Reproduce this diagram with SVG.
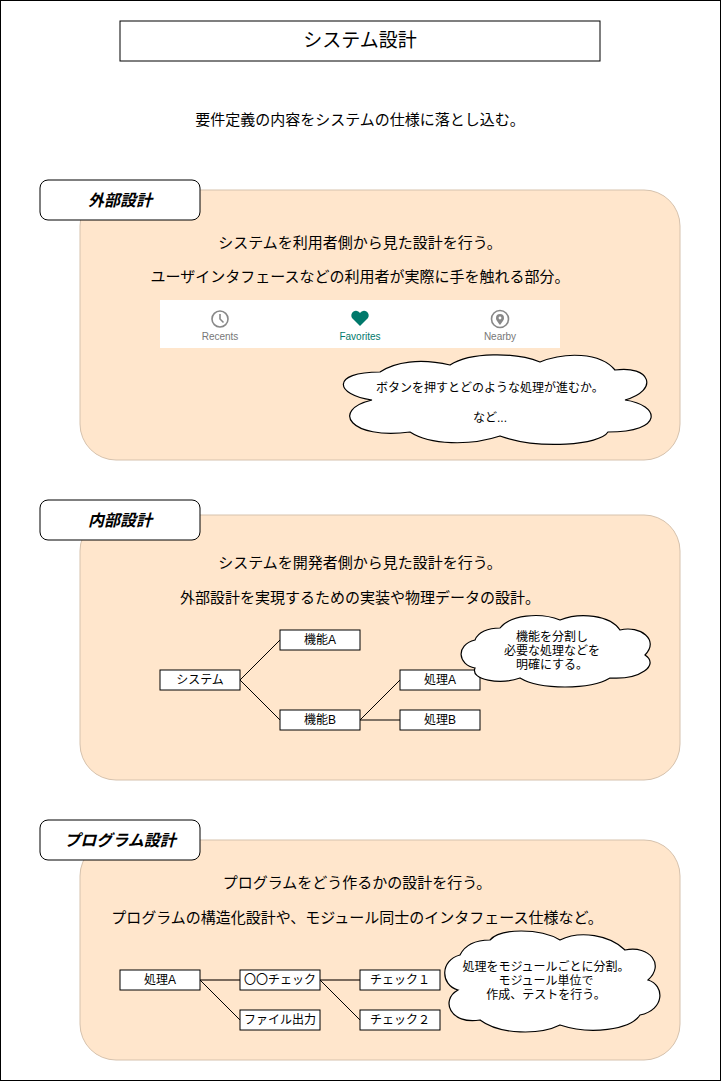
<svg xmlns="http://www.w3.org/2000/svg" width="721" height="1081" viewBox="0 0 721 1081">
<style>
text{font-family:"Liberation Sans","Noto Sans CJK JP",sans-serif;fill:#000;text-anchor:middle}
.t14{font-size:15px}.t12{font-size:12px}
.sec{fill:#ffe6cc;stroke:#d6c2ad;stroke-width:1}
.lbl{fill:#fff;stroke:#000;stroke-width:1}
.lt{font-size:16px;font-weight:bold;font-style:italic}
.box{fill:#fff;stroke:#000;stroke-width:1}
.cloud{fill:#fff;stroke:#000;stroke-width:1.2}
.ln{stroke:#000;stroke-width:1;fill:none}
.ln2{stroke:#7a6a5c;stroke-width:2;fill:none}
.tab{font-size:10px;fill:#777}
</style>
<rect x="0.5" y="0.5" width="720" height="1080" fill="#fff" stroke="#000"/>
<g id="title"><rect x="120" y="21" width="480" height="40" fill="#fff" stroke="#000"/><text x="360" y="47" style="font-size:19px">システム設計</text></g>
<text x="360" y="125" class="t14">要件定義の内容をシステムの仕様に落とし込む。</text>

<g id="sec1">
<rect class="sec" x="80" y="190" width="600" height="270" rx="36"/>
<rect class="lbl" x="40" y="180" width="160" height="40" rx="8"/><text class="lt" x="120" y="206">外部設計</text>
<text class="t14" x="360" y="248">システムを利用者側から見た設計を行う。</text>
<text class="t14" x="360" y="282">ユーザインタフェースなどの利用者が実際に手を触れる部分。</text>
<rect x="160" y="300" width="400" height="48" fill="#fff"/>
<circle cx="220" cy="319" r="8" fill="none" stroke="#888" stroke-width="1.6"/>
<path d="M220 314v5l3.5 3.5" stroke="#888" stroke-width="1.6" fill="none"/>
<text class="tab" x="220" y="340">Recents</text>
<path d="M360 326l-8-8a4.6 4.6 0 0 1 8-5a4.6 4.6 0 0 1 8 5z" fill="#00796b"/>
<text class="tab" x="360" y="340" style="fill:#00796b">Favorites</text>
<circle cx="500" cy="319" r="8.5" fill="none" stroke="#888" stroke-width="1.6"/>
<path d="M500 325c-3-4-4-5-4-7a4 4 0 0 1 8 0c0 2-1 3-4 7z" fill="#888"/><circle cx="500" cy="318" r="1.4" fill="#fff"/>
<text class="tab" x="500" y="340">Nearby</text>
<path class="cloud" d="M380 372 C330 372,335 395,372 400 C330 410,350 440,410 432 C430 445,470 446,500 436 C540 450,600 445,608 432 C665 432,660 405,625 400 C660 390,650 365,615 370 C600 352,565 352,540 362 C515 352,470 352,450 365 C420 358,395 362,380 372 Z"/>
<text class="t12" x="490" y="392">ボタンを押すとどのような処理が進むか。</text>
<text class="t12" x="490" y="422">など...</text>
</g>

<g id="sec2">
<rect class="sec" x="80" y="515" width="600" height="265" rx="36"/>
<rect class="lbl" x="40" y="500" width="160" height="40" rx="8"/><text class="lt" x="120" y="526">内部設計</text>
<text class="t14" x="360" y="568">システムを開発者側から見た設計を行う。</text>
<text class="t14" x="360" y="603">外部設計を実現するための実装や物理データの設計。</text>
</g>
<g id="sec3">
<rect class="sec" x="80" y="840" width="600" height="220" rx="36"/>
<rect class="lbl" x="40" y="820" width="160" height="40" rx="8"/><text class="lt" x="120" y="846">プログラム設計</text>
<text class="t14" x="357" y="888">プログラムをどう作るかの設計を行う。</text>
<text class="t14" x="357" y="923">プログラムの構造化設計や、モジュール同士のインタフェース仕様など。</text>
</g>
<g id="connectors">
<path class="ln" d="M240 680L280 640M240 680L280 720M360 720L400 680M360 720H400"/>
<path class="ln2" d="M200 980H240M320 980H360"/>
<path class="ln" d="M200 980L240 1020M320 980L360 1020"/>
</g>
<g id="n-system"><rect class="box" x="160" y="670" width="80" height="20"/><text class="t12" x="200" y="684">システム</text></g>
<g id="n-kinoA"><rect class="box" x="280" y="630" width="80" height="20"/><text class="t12" x="320" y="644">機能A</text></g>
<g id="n-kinoB"><rect class="box" x="280" y="710" width="80" height="20"/><text class="t12" x="320" y="724">機能B</text></g>
<g id="n-shoriA"><rect class="box" x="400" y="670" width="80" height="20"/><text class="t12" x="440" y="684">処理A</text></g>
<g id="n-shoriB"><rect class="box" x="400" y="710" width="80" height="20"/><text class="t12" x="440" y="724">処理B</text></g>
<g id="cloud2">
<path class="cloud" d="M475 640 C455 645,458 665,475 668 C470 680,500 685,520 678 C540 690,590 690,610 678 C640 680,660 665,645 655 C660 640,640 625,620 630 C610 615,580 612,560 620 C540 612,510 615,500 628 C488 628,478 632,475 640 Z"/>
<text class="t12" x="552" y="641">機能を分割し</text>
<text class="t12" x="552" y="655">必要な処理などを</text>
<text class="t12" x="552" y="669">明確にする。</text>
</g>
<g id="p-shoriA"><rect class="box" x="120" y="970" width="80" height="20"/><text class="t12" x="160" y="984">処理A</text></g>
<g id="p-check"><rect class="box" x="240" y="970" width="80" height="20"/><text class="t12" x="280" y="984">〇〇チェック</text></g>
<g id="p-check1"><rect class="box" x="360" y="970" width="80" height="20"/><text class="t12" x="400" y="984">チェック１</text></g>
<g id="p-file"><rect class="box" x="240" y="1010" width="80" height="20"/><text class="t12" x="280" y="1024">ファイル出力</text></g>
<g id="p-check2"><rect class="box" x="360" y="1010" width="80" height="20"/><text class="t12" x="400" y="1024">チェック２</text></g>
<g id="cloud3">
<path class="cloud" d="M460 955 C440 960,440 985,458 990 C440 1000,450 1025,480 1020 C500 1035,540 1035,560 1025 C590 1035,630 1030,640 1015 C665 1010,665 985,648 980 C665 965,650 945,625 950 C610 935,580 930,560 940 C540 928,500 928,490 940 C475 940,465 945,460 955 Z"/>
<text class="t12" x="546" y="971">処理をモジュールごとに分割。</text>
<text class="t12" x="546" y="985">モジュール単位で</text>
<text class="t12" x="546" y="999">作成、テストを行う。</text>
</g>
</svg>
